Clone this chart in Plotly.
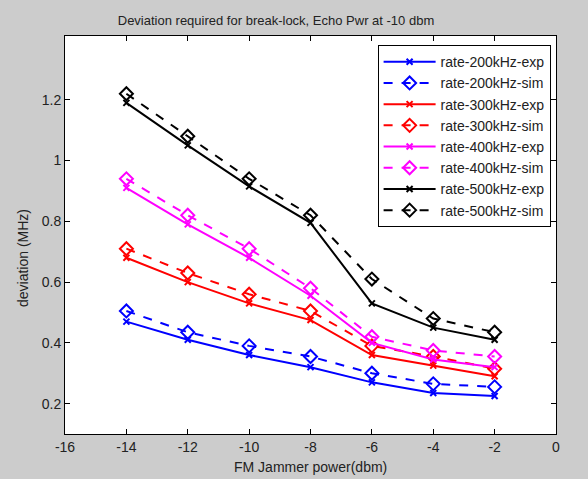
import plotly.graph_objects as go

x_dbm = [-14, -12, -10, -8, -6, -4, -2]

r200_exp = [0.47, 0.41, 0.36, 0.32, 0.27, 0.235, 0.225]
r200_sim = [0.505, 0.435, 0.39, 0.355, 0.30, 0.265, 0.255]
r300_exp = [0.68, 0.60, 0.53, 0.475, 0.36, 0.325, 0.29]
r300_sim = [0.71, 0.63, 0.56, 0.505, 0.39, 0.355, 0.315]
r400_exp = [0.91, 0.79, 0.68, 0.555, 0.40, 0.345, 0.32]
r400_sim = [0.94, 0.82, 0.71, 0.58, 0.42, 0.375, 0.355]
r500_exp = [1.19, 1.05, 0.915, 0.795, 0.53, 0.45, 0.41]
r500_sim = [1.22, 1.08, 0.94, 0.82, 0.61, 0.48, 0.435]

x_ticks = [-16, -14, -12, -10, -8, -6, -4, -2, 0]
x_ticktext = ["-16", "-14", "-12", "-10", "-8", "-6", "-4", "-2", "0"]
y_ticks = [0.2, 0.4, 0.6, 0.8, 1.0, 1.2]
y_ticktext = ["0.2", "0.4", "0.6", "0.8", "1", "1.2"]

series = [
    ("rate-200kHz-exp", r200_exp, "blue", "solid", "x-thin"),
    ("rate-200kHz-sim", r200_sim, "blue", "dash", "diamond-open"),
    ("rate-300kHz-exp", r300_exp, "red", "solid", "x-thin"),
    ("rate-300kHz-sim", r300_sim, "red", "dash", "diamond-open"),
    ("rate-400kHz-exp", r400_exp, "magenta", "solid", "x-thin"),
    ("rate-400kHz-sim", r400_sim, "magenta", "dash", "diamond-open"),
    ("rate-500kHz-exp", r500_exp, "black", "solid", "x-thin"),
    ("rate-500kHz-sim", r500_sim, "black", "dash", "diamond-open"),
]

fig = go.Figure()
for name, vals, color, dash, sym in series:
    is_sim = sym == "diamond-open"
    fig.add_trace(go.Scatter(
        x=x_dbm, y=vals, name=name, mode="lines+markers",
        line=dict(color=color, width=2, dash=dash),
        marker=dict(symbol=sym, size=10 if is_sim else 6, color=color,
                    line=dict(color=color, width=2)),
    ))

font = "Liberation Sans, Arial, sans-serif"
tcol = "#222"
axis_common = dict(showgrid=False, zeroline=False, showline=True, linecolor="black",
                   linewidth=1, mirror="ticks", ticks="inside", ticklen=5,
                   tickcolor="black", automargin=False,
                   tickfont=dict(family=font, size=14, color=tcol))

fig.update_layout(
    width=588, height=479,
    paper_bgcolor="#cccccc", plot_bgcolor="white",
    margin=dict(l=65, r=32, t=36, b=45),
    title=dict(text="Deviation required for break-lock, Echo Pwr at -10 dbm",
               x=276 / 588, xanchor="center", xref="container",
               y=1 - 20 / 479, yanchor="middle", yref="container",
               font=dict(family=font, size=13, color=tcol)),
    xaxis=dict(range=[-16, 0], tickvals=x_ticks, ticktext=x_ticktext, **axis_common),
    yaxis=dict(range=[0.1, 1.41], tickvals=y_ticks, ticktext=y_ticktext, **axis_common),
    legend=dict(x=0.989, xanchor="right", y=0.977, yanchor="top",
                bgcolor="white", bordercolor="black", borderwidth=1,
                font=dict(family=font, size=14, color=tcol),
                tracegroupgap=0, itemwidth=52),
    showlegend=True,
    annotations=[
        dict(text="FM Jammer power(dbm)", xref="paper", yref="paper",
             x=0.5, y=-(467 - 434) / 398, xanchor="center", yanchor="middle",
             showarrow=False, font=dict(family=font, size=14, color=tcol)),
        dict(text="deviation (MHz)", xref="paper", yref="paper", textangle=-90,
             x=-(65 - 23) / 491, y=(434 - 258) / 398, xanchor="center", yanchor="middle",
             showarrow=False, font=dict(family=font, size=14, color=tcol)),
    ],
)

fig.write_html("out.html", config={"displayModeBar": False},
               post_script="document.body.style.margin='0';")
